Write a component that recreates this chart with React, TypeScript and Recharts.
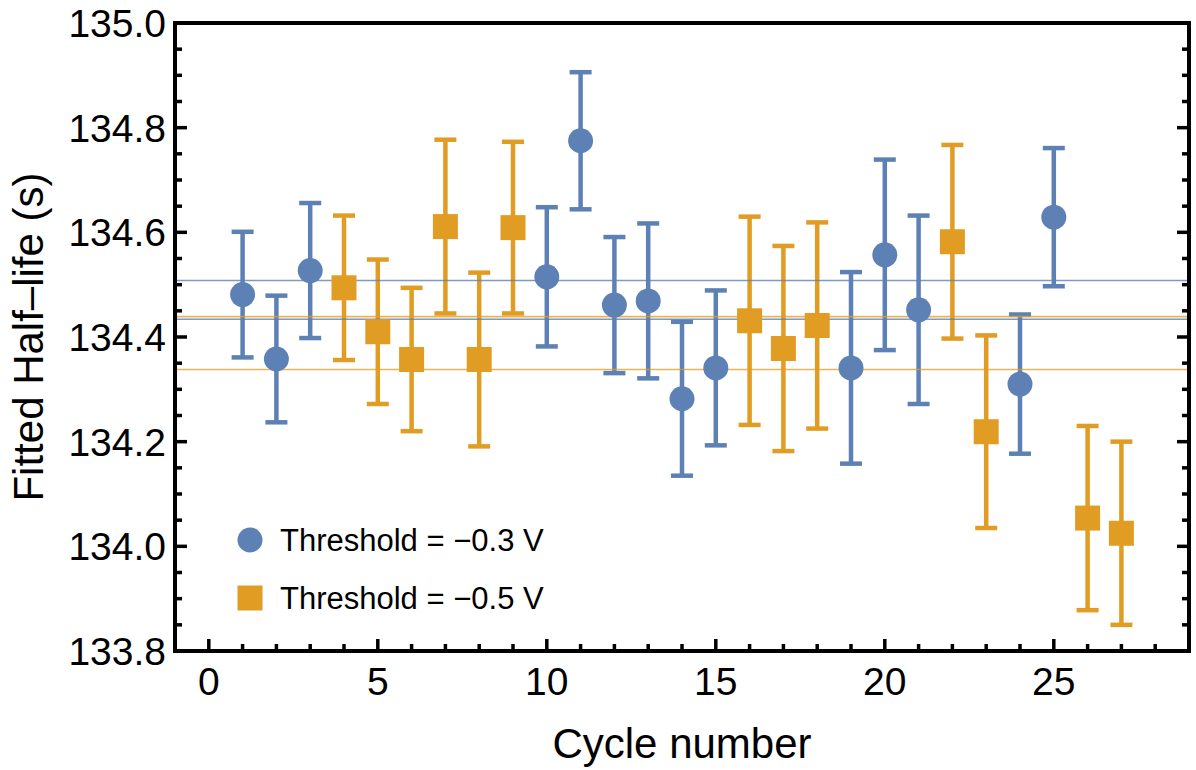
import React from 'react'
import {
  ScatterChart,
  Scatter,
  XAxis,
  YAxis,
  ErrorBar,
  ReferenceLine,
  Legend,
} from 'recharts'

const FONT = '"Liberation Sans", Arial, sans-serif'
const BLUE = '#5E81B5'
const ORANGE = '#E19C24'

// threshold -0.3 V
const blueCycles = [1, 2, 3, 10, 11, 12, 13, 14, 15, 19, 20, 21, 24, 25]
const blueValues = [134.481, 134.358, 134.527, 134.515, 134.775, 134.461, 134.469, 134.282, 134.341, 134.341, 134.557, 134.452, 134.31, 134.629]
const blueErrors = [0.12, 0.121, 0.129, 0.133, 0.131, 0.13, 0.148, 0.147, 0.148, 0.183, 0.182, 0.18, 0.133, 0.132]

// threshold -0.5 V
const orangeCycles = [4, 5, 6, 7, 8, 9, 16, 17, 18, 22, 23, 26, 27]
const orangeValues = [134.494, 134.41, 134.357, 134.611, 134.357, 134.609, 134.431, 134.378, 134.422, 134.582, 134.219, 134.054, 134.025]
const orangeErrors = [0.138, 0.138, 0.137, 0.166, 0.166, 0.164, 0.199, 0.196, 0.197, 0.185, 0.184, 0.176, 0.175]

// horizontal mean lines
const blueLines = [134.508, 134.434]
const orangeLines = [134.439, 134.338]

const legendLabels = ['Threshold = \u22120.3 V', 'Threshold = \u22120.5 V']

const xTicks = [0, 1, 2, 3, 4, 5, 6, 7, 8, 9, 10, 11, 12, 13, 14, 15, 16, 17, 18, 19, 20, 21, 22, 23, 24, 25, 26, 27, 28]
const xLabels = [0, 5, 10, 15, 20, 25]
const yTicks = [
  133.8, 133.85, 133.9, 133.95, 134.0, 134.05, 134.1, 134.15, 134.2, 134.25, 134.3, 134.35,
  134.4, 134.45, 134.5, 134.55, 134.6, 134.65, 134.7, 134.75, 134.8, 134.85, 134.9, 134.95, 135.0,
]
const yLabels = [133.8, 134.0, 134.2, 134.4, 134.6, 134.8, 135.0]

const blueData = blueCycles.map((c, i) => ({ x: c, y: blueValues[i], err: blueErrors[i] }))
const orangeData = orangeCycles.map((c, i) => ({ x: c, y: orangeValues[i], err: orangeErrors[i] }))

const isMajorX = (v: number) => xLabels.includes(v)
const isMajorY = (v: number) => yLabels.some((l) => Math.abs(l - v) < 1e-6)

const TICK_W = 3.5

const BottomTick = (props: any) => {
  const { x, y, payload } = props
  const major = isMajorX(payload.value)
  return (
    <g>
      <line x1={x} y1={y} x2={x} y2={y - (major ? 12 : 7)} stroke="#000" strokeWidth={TICK_W} />
      {major && (
        <text x={x} y={y + 44} textAnchor="middle" fontSize={39} fontFamily={FONT} fill="#000">
          {payload.value}
        </text>
      )}
    </g>
  )
}

const TopTick = (props: any) => {
  const { x, y, payload } = props
  const major = isMajorX(payload.value)
  return <line x1={x} y1={y} x2={x} y2={y + (major ? 12 : 7)} stroke="#000" strokeWidth={TICK_W} />
}

const LeftTick = (props: any) => {
  const { x, y, payload } = props
  const major = isMajorY(payload.value)
  return (
    <g>
      <line x1={x} y1={y} x2={x + (major ? 12 : 7)} y2={y} stroke="#000" strokeWidth={TICK_W} />
      {major && (
        <text x={x - 9} y={y + 14} textAnchor="end" fontSize={39} fontFamily={FONT} fill="#000">
          {Number(payload.value).toFixed(1)}
        </text>
      )}
    </g>
  )
}

const RightTick = (props: any) => {
  const { x, y, payload } = props
  const major = isMajorY(payload.value)
  return <line x1={x} y1={y} x2={x - (major ? 12 : 7)} y2={y} stroke="#000" strokeWidth={TICK_W} />
}

const Circle = (props: any) => <circle cx={props.cx} cy={props.cy} r={12.5} fill={BLUE} />
const Square = (props: any) => <rect x={props.cx - 12.5} y={props.cy - 12.5} width={25} height={25} fill={ORANGE} />

const renderLegend = () => (
  <div style={{ fontFamily: FONT, fontSize: 31, color: '#000' }}>
    {legendLabels.map((label, i) => (
      <div key={label} style={{ display: 'flex', alignItems: 'center', height: 58 }}>
        <svg width={26} height={26}>
          {i === 0 ? <circle cx={13} cy={13} r={12.5} fill={BLUE} /> : <rect x={0.5} y={0.5} width={25} height={25} fill={ORANGE} />}
        </svg>
        <span style={{ marginLeft: 17, lineHeight: 1 }}>{label}</span>
      </div>
    ))}
  </div>
)

const axisLine = { stroke: '#000', strokeWidth: 4, strokeLinecap: 'square' as const }

export default function App() {
  return (
    <div style={{ position: 'absolute', left: 0, top: 0, width: 1196, height: 770, background: '#fff' }}>
      <ScatterChart width={1196} height={770} margin={{ top: 22, right: 6, bottom: 118, left: 174 }}>
        <XAxis
          type="number"
          dataKey="x"
          domain={[-1, 29]}
          allowDataOverflow
          ticks={xTicks}
          interval={0}
          height={1}
          tickSize={0}
          tickMargin={0}
          tickLine={false}
          axisLine={axisLine}
          tick={<BottomTick />}
          label={{
            content: ({ viewBox }: any) => (
              <text x={viewBox.x + viewBox.width / 2} y={viewBox.y + 107} textAnchor="middle" fontSize={42} fontFamily={FONT} fill="#000">
                Cycle number
              </text>
            ),
          }}
        />
        <XAxis
          xAxisId="top"
          orientation="top"
          type="number"
          domain={[-1, 29]}
          allowDataOverflow
          ticks={xTicks}
          interval={0}
          height={1}
          tickSize={0}
          tickMargin={0}
          tickLine={false}
          axisLine={axisLine}
          tick={<TopTick />}
        />
        <YAxis
          type="number"
          dataKey="y"
          domain={[133.8, 135.0]}
          allowDataOverflow
          ticks={yTicks}
          interval={0}
          width={1}
          tickSize={0}
          tickMargin={0}
          tickLine={false}
          axisLine={axisLine}
          tick={<LeftTick />}
          label={{
            content: ({ viewBox }: any) => {
              const cx = viewBox.x - 131
              const cy = viewBox.y + viewBox.height / 2
              return (
                <text x={cx} y={cy} transform={`rotate(-90, ${cx}, ${cy})`} textAnchor="middle" fontSize={42} fontFamily={FONT} fill="#000">
                  Fitted Half–life (s)
                </text>
              )
            },
          }}
        />
        <YAxis
          yAxisId="right"
          orientation="right"
          type="number"
          domain={[133.8, 135.0]}
          allowDataOverflow
          ticks={yTicks}
          interval={0}
          width={1}
          tickSize={0}
          tickMargin={0}
          tickLine={false}
          axisLine={axisLine}
          tick={<RightTick />}
        />
        <Scatter data={blueData} fill={BLUE} shape={<Circle />} isAnimationActive={false}>
          <ErrorBar dataKey="err" direction="y" width={11} strokeWidth={4.5} stroke={BLUE} />
        </Scatter>
        <Scatter data={orangeData} fill={ORANGE} shape={<Square />} isAnimationActive={false}>
          <ErrorBar dataKey="err" direction="y" width={11} strokeWidth={4.5} stroke={ORANGE} />
        </Scatter>
        {blueLines.map((v) => (
          <ReferenceLine key={'b' + v} y={v} stroke={BLUE} strokeOpacity={0.8} strokeWidth={1.6} />
        ))}
        {orangeLines.map((v) => (
          <ReferenceLine key={'o' + v} y={v} stroke={ORANGE} strokeOpacity={0.75} strokeWidth={1.6} />
        ))}
        <Legend
          layout="vertical"
          align="center"
          verticalAlign="middle"
          content={renderLegend}
          wrapperStyle={{ left: 237, top: 511 }}
        />
      </ScatterChart>
    </div>
  )
}
